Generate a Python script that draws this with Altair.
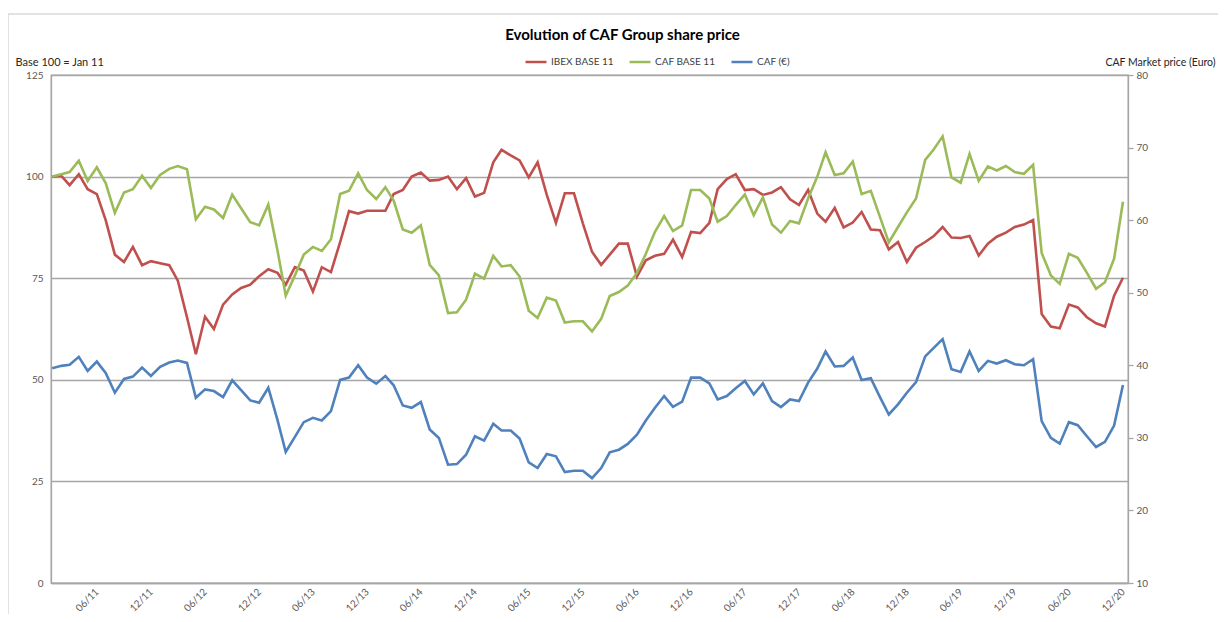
import altair as alt
import pandas as pd

FONT = "Lato"

series_names = ["IBEX BASE 11", "CAF BASE 11", "CAF (€)"]
series_colors = ["#C0504D", "#9BBB59", "#4F81BD"]

months = [f"{y}-{m:02d}-01" for y in range(2011, 2021) for m in range(1, 13)]

ibex = [
    100, 100.2, 97.9, 100.6, 96.9, 95.7, 89.3, 80.8, 79.0, 82.7, 78.2, 79.2,
    78.7, 78.2, 74.4, 65.4, 56.3, 65.5, 62.5, 68.5, 71.0, 72.6, 73.4, 75.5,
    77.2, 76.3, 73.4, 77.7, 76.9, 71.7, 77.7, 76.5, 83.9, 91.5, 90.9, 91.6,
    91.6, 91.6, 95.7, 96.7, 100.0, 101.0, 99.0, 99.2, 100.0, 96.9, 99.6, 95.1,
    96.0, 103.5, 106.6, 105.2, 104.0, 99.8, 103.5, 95.5, 88.6, 95.9, 95.9, 88.5,
    81.5, 78.3, 80.8, 83.5, 83.5, 75.4, 79.4, 80.5, 81.0, 84.5, 80.2, 86.4,
    86.1, 88.6, 96.9, 99.4, 100.6, 96.7, 96.9, 95.5, 96.1, 97.4, 94.4, 93.0,
    96.7, 90.9, 88.9, 92.3, 87.5, 88.7, 91.3, 87.0, 86.8, 82.1, 83.9, 79.0,
    82.5, 83.9, 85.3, 87.6, 85.0, 84.9, 85.4, 80.6, 83.5, 85.2, 86.2, 87.6,
    88.2, 89.3, 66.2, 63.1, 62.7, 68.5, 67.8, 65.4, 63.9, 63.1, 70.7, 75.1,
]

caf_base = [
    100, 100.6, 101.1, 103.9, 98.9, 102.3, 98.4, 91.1, 96.1, 96.9, 100.2, 97.2,
    100.4, 101.9, 102.6, 101.8, 89.5, 92.6, 91.9, 89.8, 95.6, 92.2, 88.8, 88.0,
    93.1, 81.9, 70.7, 75.7, 80.8, 82.7, 81.7, 84.6, 95.7, 96.5, 100.8, 96.7,
    94.5, 97.4, 94.1, 87.0, 86.2, 88.0, 78.3, 75.7, 66.4, 66.6, 69.7, 76.1,
    74.9, 80.5, 77.9, 78.2, 75.4, 67.0, 65.2, 70.2, 69.5, 64.1, 64.4, 64.4,
    61.9, 65.0, 70.6, 71.6, 73.2, 76.3, 81.0, 86.4, 90.3, 86.6, 88.0, 96.7,
    96.7, 94.6, 88.9, 90.3, 93.0, 95.6, 90.5, 94.9, 88.2, 86.2, 89.1, 88.5,
    94.6, 100.0, 106.0, 100.4, 100.8, 103.7, 95.7, 96.5, 90.1, 83.8, 87.6, 91.2,
    94.6, 104.1, 106.6, 109.9, 99.8, 98.5, 105.6, 99.0, 102.5, 101.5, 102.6, 101.1,
    100.7, 102.9, 81.2, 75.7, 73.6, 81.0, 80.0, 76.3, 72.4, 74.0, 79.8, 93.8,
]

caf_eur = [
    39.59, 39.92, 40.06, 41.16, 39.22, 40.51, 38.95, 36.22, 38.12, 38.44, 39.68, 38.53,
    39.78, 40.38, 40.65, 40.33, 35.53, 36.68, 36.45, 35.62, 37.93, 36.59, 35.16, 34.84,
    36.91, 32.48, 28.05, 30.13, 32.16, 32.76, 32.39, 33.68, 37.98, 38.30, 40.01, 38.30,
    37.47, 38.53, 37.24, 34.47, 34.15, 34.93, 31.15, 29.99, 26.30, 26.39, 27.68, 30.22,
    29.62, 31.93, 31.01, 31.01, 29.90, 26.62, 25.84, 27.77, 27.45, 25.28, 25.47, 25.47,
    24.45, 25.84, 28.00, 28.37, 29.16, 30.45, 32.39, 34.15, 35.76, 34.28, 34.98, 38.30,
    38.30, 37.50, 35.30, 35.76, 36.82, 37.84, 35.99, 37.51, 35.07, 34.24, 35.30, 35.07,
    37.61, 39.55, 41.90, 39.83, 39.92, 41.07, 37.98, 38.21, 35.62, 33.22, 34.61, 36.22,
    37.70, 41.23, 42.36, 43.61, 39.46, 39.09, 41.90, 39.22, 40.61, 40.24, 40.70, 40.14,
    40.01, 40.84, 32.30, 29.99, 29.20, 32.16, 31.74, 30.22, 28.74, 29.44, 31.70, 37.28,
]

left_ticks = [0, 25, 50, 75, 100, 125]
right_ticks = [10, 20, 30, 40, 50, 60, 70, 80]
x_tick_dates = [alt.DateTime(year=y, month=m, date=1) for y in range(2011, 2021) for m in (6, 12)]

df = pd.DataFrame({
    "date": months * 3,
    "series": [series_names[0]] * 120 + [series_names[1]] * 120 + [series_names[2]] * 120,
    "value": ibex + caf_base + caf_eur,
})

GRID = "#A6A6A6"
LABEL = "#595959"

x_enc = alt.X(
    "date:T",
    scale=alt.Scale(domain=[alt.DateTime(year=2010, month=12, date=28),
                            alt.DateTime(year=2020, month=12, date=18)]),
    axis=alt.Axis(values=x_tick_dates, format="%m/%y", labelAngle=-45,
                  labelAlign="right", labelBaseline="middle", labelPadding=7,
                  ticks=False, grid=False, domainColor=GRID, domainWidth=1.3,
                  labelFontSize=10, labelColor=LABEL, labelFont=FONT, title=None,
                  labelOverlap=False),
)

color_enc = alt.Color(
    "series:N",
    scale=alt.Scale(domain=series_names, range=series_colors),
    legend=alt.Legend(orient="none", legendX=473, legendY=-25, direction="horizontal",
                      title=None, symbolType="stroke", symbolStrokeWidth=2.5,
                      symbolSize=440, labelFontSize=10, labelFont=FONT,
                      labelColor="#404040", columnPadding=10, labelOffset=3),
)

y_left = alt.Y(
    "value:Q",
    scale=alt.Scale(domain=[0, 125], nice=False, zero=False),
    axis=alt.Axis(values=left_ticks, grid=True, gridColor=GRID, gridWidth=1.3,
                  domainColor=GRID, domainWidth=1.3, ticks=False, labelFontSize=10,
                  labelColor=LABEL, labelFont=FONT, labelPadding=8,
                  title="Base 100 = Jan 11", titleAngle=0, titleX=-36, titleY=-13,
                  titleAlign="left", titleBaseline="middle", titleFontSize=11,
                  titleFontWeight="normal", titleColor="#262626", titleFont=FONT),
)

y_right = alt.Y(
    "value:Q",
    scale=alt.Scale(domain=[10, 80], nice=False, zero=False),
    axis=alt.Axis(orient="right", values=right_ticks, grid=False,
                  domainColor=GRID, domainWidth=1.3, ticks=True, tickColor=GRID,
                  tickSize=5, tickWidth=1.3, labelFontSize=10, labelColor=LABEL,
                  labelFont=FONT, labelPadding=3,
                  title="CAF Market price (Euro)", titleAngle=0, titleX=-23, titleY=-13,
                  titleAlign="left", titleBaseline="middle", titleFontSize=10.5,
                  titleFontWeight="normal", titleColor="#262626", titleFont=FONT),
)

base = alt.Chart(df)

red = base.transform_filter(alt.datum.series == series_names[0]).mark_line(
    strokeWidth=2.6).encode(x=x_enc, y=y_left, color=color_enc)
green = base.transform_filter(alt.datum.series == series_names[1]).mark_line(
    strokeWidth=2.6).encode(x=x_enc, y=y_left, color=color_enc)
blue = base.transform_filter(alt.datum.series == series_names[2]).mark_line(
    strokeWidth=2.6).encode(x=x_enc, y=y_right, color=color_enc)

frame = alt.Chart(pd.DataFrame({"a": [0]})).mark_rect(
    filled=False, stroke="#D9D9D9", strokeWidth=1.5).encode(
    x=alt.value(-43), x2=alt.value(1200), y=alt.value(-61), y2=alt.value(600))

left_layer = alt.layer(red, green)

chart = alt.layer(frame, left_layer, blue).resolve_scale(y="independent").properties(
    width=1077, height=508,
    autosize=alt.AutoSizeParams(type="none"),
    padding={"left": 43, "top": 67, "right": 90, "bottom": 31},
    title=alt.TitleParams("Evolution of CAF Group share price", fontSize=15,
                          fontWeight="bold", font=FONT, color="#000000",
                          anchor="middle", dx=33, offset=-30),
).configure_view(stroke=GRID, strokeWidth=1.3)

chart.save("out.html", embed_options={"renderer": "svg", "actions": False})
